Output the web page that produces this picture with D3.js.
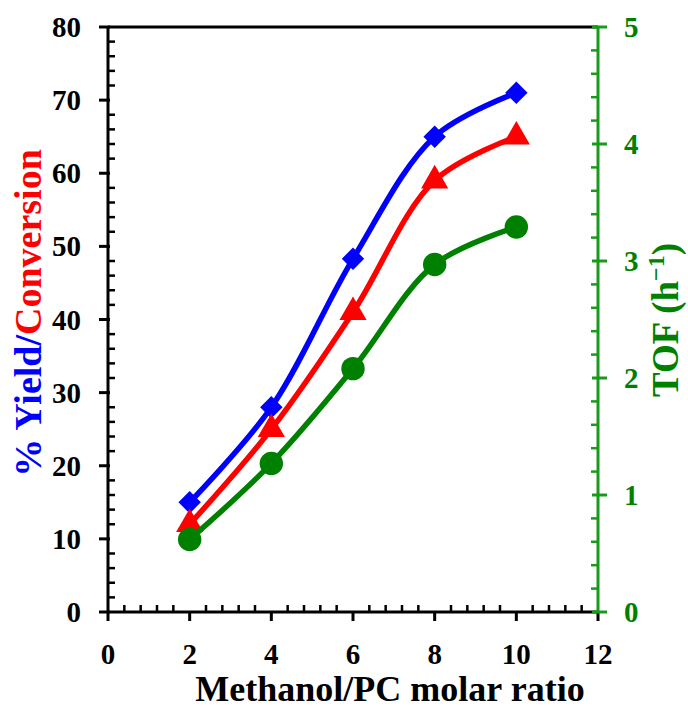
<!DOCTYPE html>
<html>
<head>
<meta charset="utf-8">
<script src="https://cdn.jsdelivr.net/npm/d3@7"></script>
<style>
  html, body { margin: 0; padding: 0; background: #fff; }
  svg { display: block; }
  text { font-family: "Liberation Serif", "Times New Roman", serif; font-weight: bold; }
</style>
</head>
<body>
<svg id="chart" width="688" height="709"></svg>
<script>
// Methanol/PC molar ratio
const ratios = [2, 4, 6, 8, 10];
// % yield (blue), % conversion (red), TOF in h^-1 (green)
const yieldPct = [15.0, 28.0, 48.3, 65.0, 71.0];
const conversionPct = [12.0, 25.0, 41.0, 59.0, 65.0];
const tof = [0.62, 1.27, 2.08, 2.97, 3.29];

const xTicks = [0, 2, 4, 6, 8, 10, 12];
const leftTicks = [0, 10, 20, 30, 40, 50, 60, 70, 80];
const rightTicks = [0, 1, 2, 3, 4, 5];

const svg = d3.select("#chart");
const plotL = 108, plotR = 598, plotT = 27, plotB = 612;

const x = d3.scaleLinear().domain([0, 12]).range([plotL, plotR]);
const yL = d3.scaleLinear().domain([0, 80]).range([plotB, plotT]);
const yR = d3.scaleLinear().domain([0, 5]).range([plotB, plotT]);

const BLUE = "#0000ff", RED = "#ff0000", GREEN = "#008000", AXGREEN = "#1a9a1a";
const TICK_FONT = 29;

// frame top
svg.append("line").attr("x1", plotL).attr("x2", plotR).attr("y1", plotT).attr("y2", plotT)
  .attr("stroke", "#000").attr("stroke-width", 3);

// bottom axis
const xMinor = d3.range(0, 12.001, 0.4).filter(v => Math.abs(v / 2 - Math.round(v / 2)) > 1e-6);
const gx = svg.append("g");
gx.append("line").attr("x1", plotL).attr("x2", plotR).attr("y1", plotB).attr("y2", plotB)
  .attr("stroke", "#000").attr("stroke-width", 3);
gx.selectAll("line.maj").data(xTicks).join("line").attr("class", "maj")
  .attr("x1", d => x(d)).attr("x2", d => x(d)).attr("y1", plotB).attr("y2", plotB + 9)
  .attr("stroke", "#000").attr("stroke-width", 3);
gx.selectAll("line.min").data(xMinor).join("line").attr("class", "min")
  .attr("x1", d => x(d)).attr("x2", d => x(d)).attr("y1", plotB).attr("y2", plotB - 7)
  .attr("stroke", "#000").attr("stroke-width", 2.5);
gx.selectAll("text").data(xTicks).join("text")
  .attr("x", d => x(d)).attr("y", 664).attr("text-anchor", "middle")
  .attr("font-size", TICK_FONT).attr("fill", "#000").text(d => d);

// left axis
const lMinor = d3.range(0, 80.001, 2).filter(v => v % 10 !== 0);
const gl = svg.append("g");
gl.append("line").attr("x1", plotL).attr("x2", plotL).attr("y1", plotT).attr("y2", plotB)
  .attr("stroke", "#000").attr("stroke-width", 3);
gl.selectAll("line.maj").data(leftTicks).join("line").attr("class", "maj")
  .attr("x1", plotL - 9).attr("x2", plotL + 2).attr("y1", d => yL(d)).attr("y2", d => yL(d))
  .attr("stroke", "#000").attr("stroke-width", 3);
gl.selectAll("line.min").data(lMinor).join("line").attr("class", "min")
  .attr("x1", plotL).attr("x2", plotL + 7).attr("y1", d => yL(d)).attr("y2", d => yL(d))
  .attr("stroke", "#000").attr("stroke-width", 2.5);
gl.selectAll("text").data(leftTicks).join("text")
  .attr("x", 81).attr("y", d => yL(d) + 10).attr("text-anchor", "end")
  .attr("font-size", TICK_FONT).attr("fill", "#000").text(d => d);

// right axis (TOF)
const rMinor = d3.range(0, 5.001, 0.2).filter(v => Math.abs(v - Math.round(v)) > 1e-6);
const gr = svg.append("g");
gr.append("line").attr("x1", plotR).attr("x2", plotR).attr("y1", plotT).attr("y2", plotB)
  .attr("stroke", AXGREEN).attr("stroke-width", 3);
gr.selectAll("line.maj").data(rightTicks).join("line").attr("class", "maj")
  .attr("x1", plotR - 6).attr("x2", plotR + 9).attr("y1", d => yR(d)).attr("y2", d => yR(d))
  .attr("stroke", AXGREEN).attr("stroke-width", 3);
gr.selectAll("line.min").data(rMinor).join("line").attr("class", "min")
  .attr("x1", plotR - 7).attr("x2", plotR).attr("y1", d => yR(d)).attr("y2", d => yR(d))
  .attr("stroke", AXGREEN).attr("stroke-width", 2.5);
gr.selectAll("text").data(rightTicks).join("text")
  .attr("x", 624).attr("y", d => yR(d) + 10).attr("text-anchor", "start")
  .attr("font-size", TICK_FONT).attr("fill", GREEN).text(d => d);

// series: smooth line through the points, then the markers
function drawSeries(values, yScale, color, symbolType, size) {
  const pts = ratios.map((r, i) => [x(r), yScale(values[i])]);
  svg.append("path").attr("d", d3.line().curve(d3.curveCatmullRom.alpha(0.5))(pts))
    .attr("fill", "none").attr("stroke", color).attr("stroke-width", 5.5);
  svg.append("g").selectAll("path").data(pts).join("path")
    .attr("transform", d => `translate(${d[0]},${d[1]})`)
    .attr("d", d3.symbol().type(symbolType).size(size)())
    .attr("fill", color);
}
drawSeries(yieldPct, yL, BLUE, d3.symbolDiamond2, 320);
drawSeries(conversionPct, yL, RED, d3.symbolTriangle, 320);
drawSeries(tof, yR, GREEN, d3.symbolCircle, 430);

// axis titles
const yt = svg.append("text").attr("transform", "translate(41,313) rotate(-90)")
  .attr("text-anchor", "middle").attr("font-size", 38);
yt.append("tspan").attr("fill", BLUE).text("% Yield/");
yt.append("tspan").attr("fill", RED).text("Conversion");

const tt = svg.append("text").attr("transform", "translate(678,320) rotate(-90)")
  .attr("text-anchor", "middle").attr("font-size", 37).attr("fill", GREEN);
tt.append("tspan").text("TOF (h");
tt.append("tspan").attr("font-size", 24).attr("dy", -14).text("−1");
tt.append("tspan").attr("dy", 14).text(")");

svg.append("text").attr("x", 390).attr("y", 701).attr("text-anchor", "middle")
  .attr("font-size", 36).attr("fill", "#000").text("Methanol/PC molar ratio");
</script>
</body>
</html>
